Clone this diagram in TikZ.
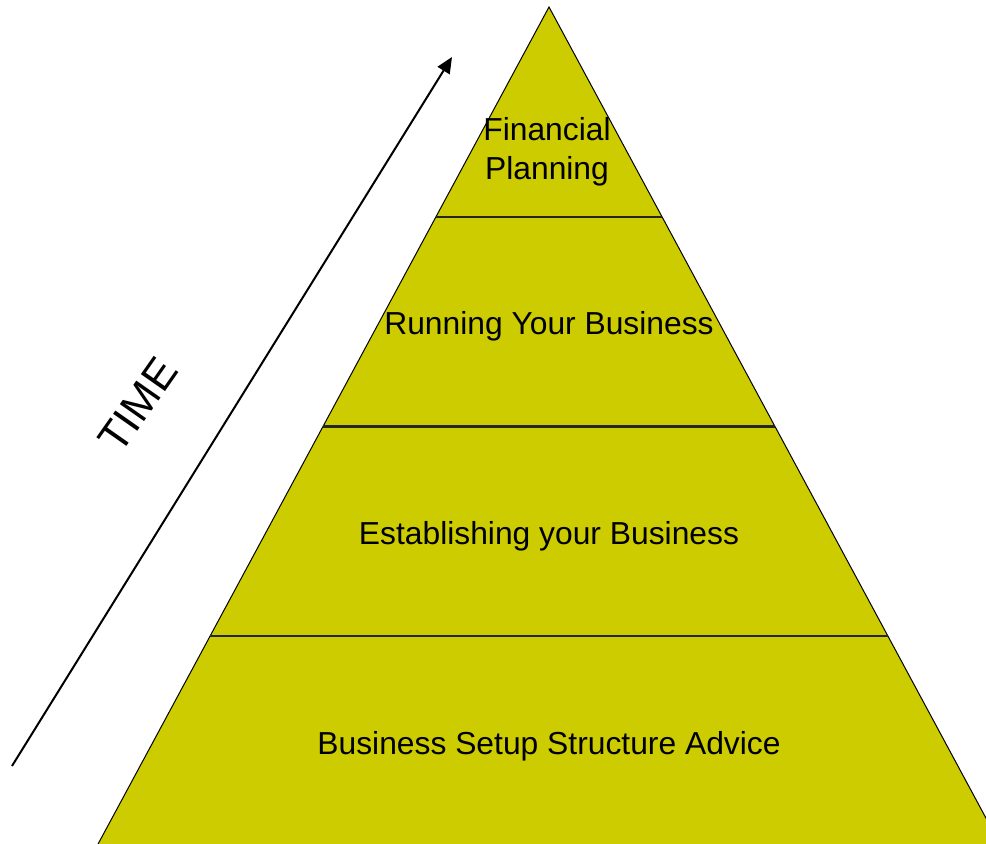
\documentclass[tikz,border=0pt]{standalone}
\usepackage{fontspec}
\setmainfont{Liberation Sans}
\usepackage{tikz}
\usetikzlibrary{arrows.meta,calc,positioning}
\definecolor{pyrfill}{HTML}{CCCC00}

\begin{document}
\begin{tikzpicture}[x=0.5pt,y=-0.5pt,
		layer/.style={font=\fontsize{15.9}{19.5}\selectfont,align=center},
		divider/.style={line width=1.2pt,black!85},
		timearrow/.style={line width=1pt,-{Triangle[length=8pt,width=7pt]}}
		]
			\useasboundingbox (0,0) rectangle (986,844);
			\clip (0,0) rectangle (986,844);
			\coordinate (apex) at (549,7);
			\coordinate (bl) at (97,846);
			\coordinate (br) at (1001,846);
			\fill[pyrfill] (apex) -- (bl) -- (br) -- cycle;
			\draw[line width=0.5pt] (bl) -- (apex) -- (br);
			\foreach \t in {0.25,0.5,0.75}
			\draw[divider] ($(apex)!\t!(bl)$) -- ($(apex)!\t!(br)$);
			\node[layer] (fin) at (547,152) {Financial\\Planning};
			\node[layer] (run) at (549,326) {Running Your Business};
			\node[layer] (est) at (549,536) {Establishing your Business};
			\node[layer] (adv) at (549,746) {Business Setup Structure Advice};
			\coordinate (tstart) at (12,766);
			\coordinate (tend) at (452,57);
			\draw[timearrow] (tstart) -- (tend);
			\node[font=\fontsize{21.5}{26}\selectfont,rotate=55] (time) at (138,405) {TIME};
		\end{tikzpicture}
\end{document}
